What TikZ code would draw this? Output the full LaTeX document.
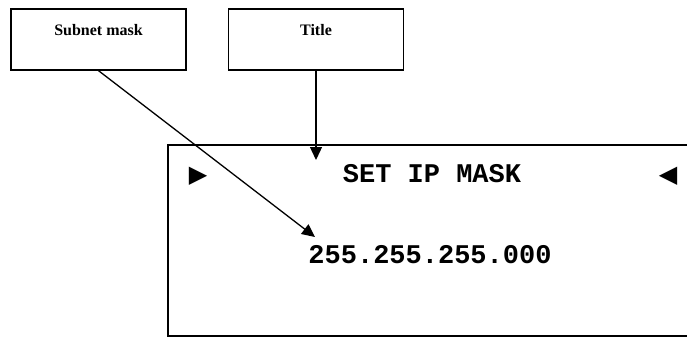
\documentclass[tikz,border=0pt]{standalone}
\usepackage{fontspec}
\setmainfont{Liberation Serif}
\newfontfamily\lcdfont{Liberation Mono}
\newfontfamily\symfont{DejaVu Sans}
\usetikzlibrary{arrows.meta}
\begin{document}
\begin{tikzpicture}[x=1pt,y=-1pt,
  labelbox/.style={draw,line width=1.3pt,minimum width=175pt,minimum height=61pt,inner sep=0pt},
  labeltext/.style={font=\fontsize{16}{16}\selectfont\bfseries,anchor=base,inner sep=0pt},
  lcd/.style={draw,line width=1.6pt,minimum width=542pt,minimum height=191pt,inner sep=0pt},
  lcdtext/.style={font=\fontsize{27}{27}\selectfont\lcdfont\bfseries,anchor=base,inner sep=0pt},
  symtext/.style={font=\fontsize{24}{24}\selectfont\symfont,anchor=base,inner sep=0pt},
  conn/.style={line width=1.3pt,-{Triangle[length=13pt,width=12pt]}}]
\useasboundingbox (0,0) rectangle (687,338);
\clip (0,0) rectangle (687,338);
\node[lcd] (display) at (439,240.5) {};
\node[labelbox] (subnet) at (98.5,39.5) {};
\node[labelbox] (title) at (316,39.5) {};
\node[labeltext] (subnettxt) at (98.5,35) {Subnet mask};
\node[labeltext] (titletxt) at (316,35) {Title};
\node[lcdtext] (heading) at (432,182) {SET IP MASK};
\node[lcdtext] (mask) at (430,263) {255.255.255.000};
\node[symtext] (left) at (198,182) {▶};
\node[symtext] (right) at (668,182) {◀};
\coordinate (maskend) at (315,237);
\coordinate (titleend) at (316,160);
\draw[conn] (subnet.south) -- (maskend);
\draw[conn] (title.south) -- (titleend);
\end{tikzpicture}
\end{document}
